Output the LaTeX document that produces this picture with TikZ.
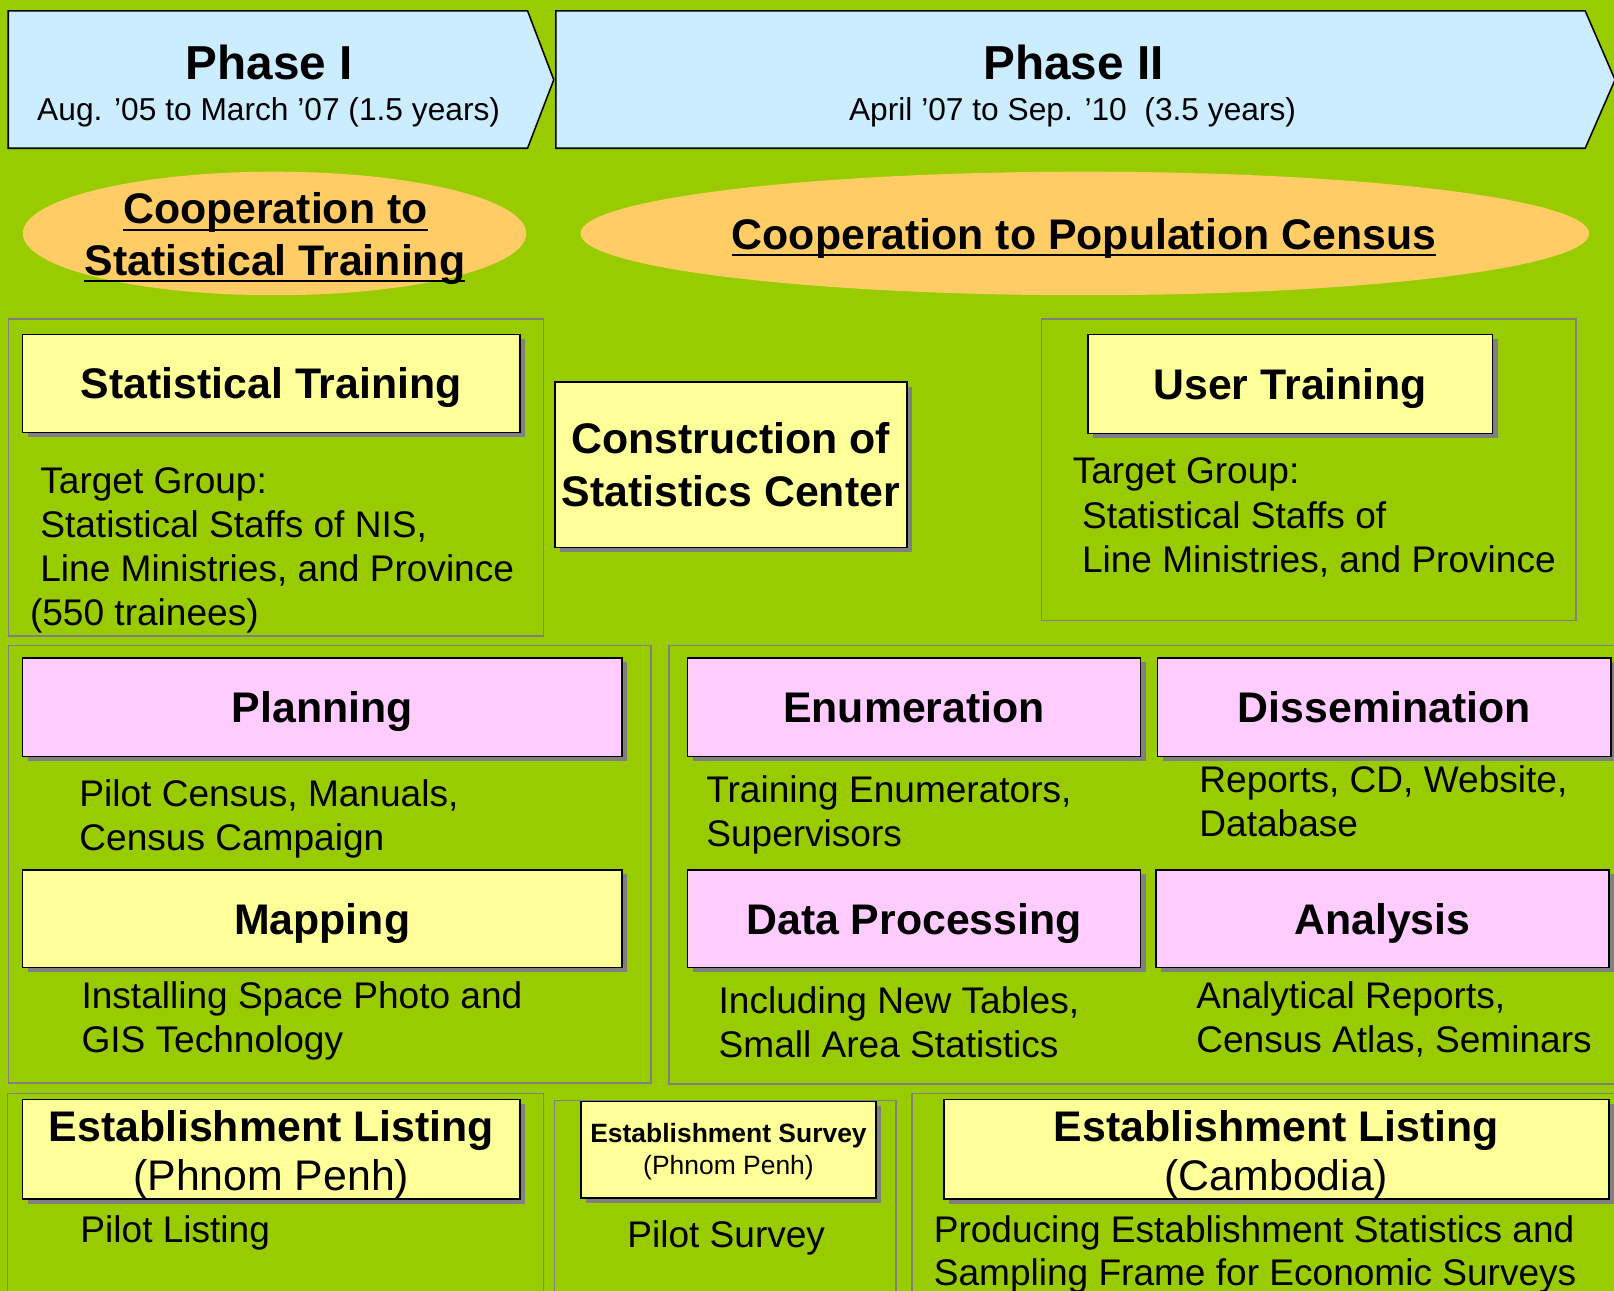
\documentclass[tikz,border=0pt]{standalone}
\usepackage{fontspec}
\setmainfont{Liberation Sans}
\usetikzlibrary{shapes.geometric,shadows}
\definecolor{bggreen}{HTML}{99CC00}
\definecolor{phaseblue}{HTML}{CCECFF}
\definecolor{ovalorange}{HTML}{FFCC66}
\definecolor{boxyellow}{HTML}{FFFF99}
\definecolor{boxpink}{HTML}{FFCCFF}
\definecolor{framegray}{HTML}{808080}
\definecolor{shadowgray}{HTML}{808080}
\newcommand\fPhase{\fontsize{46.3}{50}\selectfont\bfseries}
\newcommand\fSub{\fontsize{30.8}{36}\selectfont}
\newcommand\fTitle{\fontsize{41.6}{48}\selectfont\bfseries}
\newcommand\fBody{\fontsize{36}{43}\selectfont}
\begin{document}
\begin{tikzpicture}[x=1pt,y=-1pt,
  frame/.style={draw=framegray,line width=1.3pt},
  phasebox/.style={draw=black,line width=1.5pt,fill=phaseblue,line join=miter},
  boxbase/.style={draw=black,line width=1.5pt,inner sep=0pt,align=center,
    drop shadow={shadow xshift=5pt,shadow yshift=-4.5pt,fill=shadowgray,opacity=1}},
  ybox/.style={boxbase,fill=boxyellow},
  pbox/.style={boxbase,fill=boxpink},
  title/.style={font=\fTitle,text height=30pt,text depth=0pt},
  body/.style={font=\fBody,anchor=base west,inner sep=0pt},
  bodyc/.style={font=\fBody,anchor=base,inner sep=0pt},
  coop/.style={font=\fTitle,anchor=base,inner sep=0pt},
  uline/.style={line width=2pt},
  oval/.style={ellipse,fill=ovalorange,inner sep=0pt}]
\useasboundingbox (0,0) rectangle (1568,1254);
\clip (0,0) rectangle (1568,1254);
\fill[bggreen] (0,0) rectangle (1568,1254);

% phases
\draw[phasebox] (8,10.5) -- (512.5,10.5) -- (538,77.5) -- (512.5,144) -- (8,144) -- cycle;
\draw[phasebox] (540,10.5) -- (1540,10.5) -- (1569,77.5) -- (1540,144) -- (540,144) -- cycle;
\node[font=\fPhase,anchor=base,inner sep=0pt] (p1) at (261.5,77) {Phase I};
\node[font=\fSub,anchor=base,inner sep=0pt] (p1d) at (261,117) {Aug. ’05 to March ’07 (1.5 years)};
\node[font=\fPhase,anchor=base,inner sep=0pt] (p2) at (1043,77) {Phase II};
\node[font=\fSub,anchor=base,inner sep=0pt] (p2d) at (1042,117) {April ’07 to Sep. ’10\ \ (3.5 years)};

% ovals
\node[oval,minimum width=489,minimum height=120] (ov1) at (266.7,226.8) {};
\node[oval,minimum width=980,minimum height=120] (ov2) at (1053.9,226.8) {};
\node[coop] (c1a) at (267.5,217.5) {Cooperation to};
\node[coop] (c1b) at (267,267.5) {Statistical Training};
\node[coop] (c2) at (1053,242.2) {Cooperation to Population Census};
\draw[uline] ([yshift=-5.5pt]c1a.base west) -- ([yshift=-5.5pt]c1a.base east);
\draw[uline] ([yshift=-5.5pt]c1b.base west) -- ([yshift=-5.5pt]c1b.base east);
\draw[uline] ([yshift=-5.5pt]c2.base west) -- ([yshift=-5.5pt]c2.base east);

% frames
\draw[frame] (8,310) rectangle (528,618);
\draw[frame] (1012,310) rectangle (1531,603);
\draw[frame] (8,627) rectangle (632.5,1052);
\draw[frame] (650,627) rectangle (1585,1053);
\draw[frame] (7,1062) rectangle (528,1275);
\draw[frame] (539,1069) rectangle (870.5,1275);
\draw[frame] (886,1062) rectangle (1585,1275);

% top row
\node[ybox,title,minimum width=483,minimum height=95] (st) at (263.5,372.5) {Statistical Training};
\node[body] (st1) at (39,479) {Target Group:};
\node[body] (st2) at (39,522) {Statistical Staffs of NIS,};
\node[body] (st3) at (39,565) {Line Ministries, and Province};
\node[body] (st4) at (29,608) {(550 trainees)};

\node[ybox,font={\fontsize{41.6}{51}\selectfont\bfseries},minimum width=342,minimum height=161] (csc) at (710,451.5) {Construction of\hspace{10pt}\\Statistics Center};

\node[ybox,title,minimum width=393,minimum height=96] (ut) at (1253.5,373) {User Training};
\node[body] (ut1) at (1042,469.5) {Target Group:};
\node[body] (ut2) at (1051,513) {Statistical Staffs of};
\node[body] (ut3) at (1051,556) {Line Ministries, and Province};

% middle row
\node[pbox,title,minimum width=582,minimum height=96] (plan) at (313,687) {Planning};
\node[body] (plan1) at (77,783.5) {Pilot Census, Manuals,};
\node[body] (plan2) at (77,826.5) {Census Campaign};
\node[ybox,title,minimum width=582,minimum height=95] (map) at (313,892.5) {Mapping};
\node[body] (map1) at (79,979.5) {Installing Space Photo and};
\node[body] (map2) at (79,1022.5) {GIS Technology};

\node[pbox,title,minimum width=440,minimum height=96] (enum) at (888,687) {Enumeration};
\node[body] (enum1) at (686,780) {Training Enumerators,};
\node[body] (enum2) at (686,822.5) {Supervisors};
\node[pbox,title,minimum width=440.5,minimum height=96] (diss) at (1344.75,687) {Dissemination};
\node[body] (diss1) at (1165,770) {Reports, CD, Website,};
\node[body] (diss2) at (1165,813) {Database};
\node[pbox,title,minimum width=440,minimum height=95] (dp) at (888,892.5) {Data Processing};
\node[body] (dp1) at (698,984.5) {Including New Tables,};
\node[body] (dp2) at (698,1027.8) {Small Area Statistics};
\node[pbox,title,minimum width=440,minimum height=95] (ana) at (1343,892.5) {Analysis};
\node[body] (ana1) at (1162,979.5) {Analytical Reports,};
\node[body] (ana2) at (1162,1022.5) {Census Atlas, Seminars};

% bottom row
\node[ybox,font={\fontsize{41.6}{47.5}\selectfont\bfseries},minimum width=483,minimum height=95] (elpp) at (263.5,1116.5) {\rule{0pt}{40.5pt}Establishment Listing\\{\mdseries (Phnom Penh)}};
\node[body] (elpp1) at (78,1207.5) {Pilot Listing};
\node[ybox,font={\fontsize{25.7}{31}\selectfont\bfseries},minimum width=286.5,minimum height=94] (esv) at (707.75,1117) {\rule{0pt}{22.5pt}Establishment Survey\\{\mdseries (Phnom Penh)}};
\node[bodyc] (esv1) at (705.5,1211.5) {Pilot Survey};
\node[ybox,font={\fontsize{41.6}{47.5}\selectfont\bfseries},minimum width=646,minimum height=95] (elc) at (1240,1116.5) {\rule{0pt}{40.5pt}Establishment Listing\\{\mdseries (Cambodia)}};
\node[body] (elc1) at (907,1207.5) {Producing Establishment Statistics and};
\node[body] (elc2) at (907,1249) {Sampling Frame for Economic Surveys};
\end{tikzpicture}
\end{document}
